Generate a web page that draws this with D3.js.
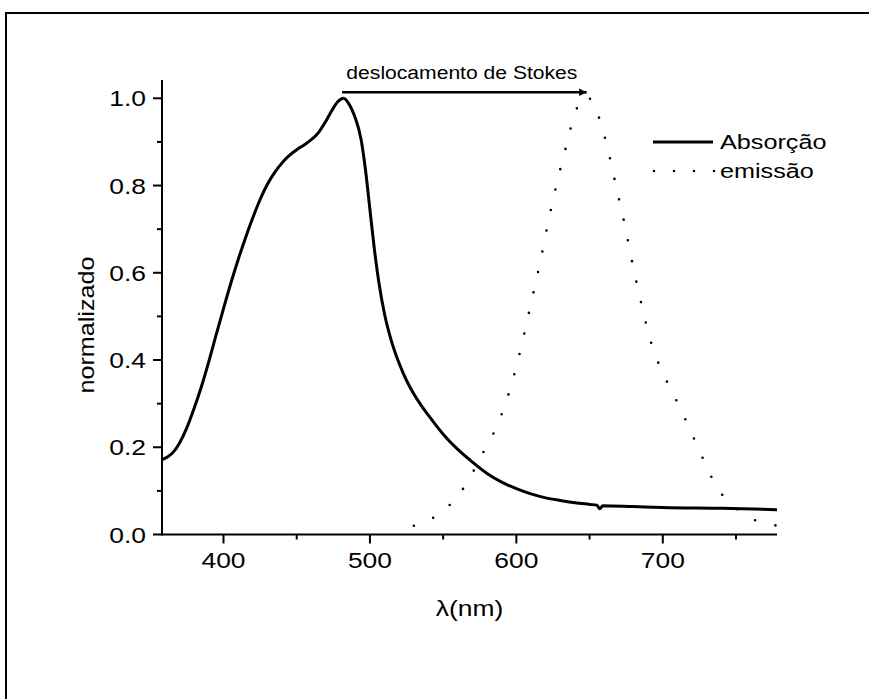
<!DOCTYPE html>
<html>
<head>
<meta charset="utf-8">
<script src="https://d3js.org/d3.v7.min.js"></script>
<style>
  body { margin: 0; background: #fff; }
  text { font-family: Arial, "Liberation Sans", sans-serif; fill: #000; }
</style>
</head>
<body>
<svg width="869" height="699"></svg>
<script>
// absorption spectrum (solid), wavelength in nm
var absWl = [358, 362, 366, 370, 375, 380, 385, 390, 395, 400, 405, 410, 415, 420, 425, 430, 435, 440, 445, 450,
  455, 460, 465, 470, 474, 478, 482, 486, 490, 494, 497, 500, 503, 506, 510, 515, 520, 525, 530, 535, 540,
  550, 560, 570, 580, 590, 600, 610, 620, 630, 640, 650, 655, 657, 659, 680, 700, 740, 778];
var absVal = [0.172, 0.178, 0.19, 0.21, 0.245, 0.29, 0.34, 0.397, 0.458, 0.518, 0.576, 0.63, 0.68, 0.726, 0.768, 0.803, 0.83, 0.852, 0.869, 0.882,
  0.893, 0.905, 0.922, 0.948, 0.972, 0.992, 1.0, 0.985, 0.955, 0.905, 0.835, 0.745, 0.655, 0.58, 0.505, 0.44, 0.392, 0.353, 0.322, 0.296, 0.273,
  0.23, 0.195, 0.166, 0.14, 0.12, 0.105, 0.093, 0.084, 0.078, 0.073, 0.069, 0.067, 0.059, 0.066, 0.064, 0.062, 0.06, 0.057];

// emission spectrum (dotted)
var emWl = [530, 544, 556, 566, 573, 580, 587, 592, 598, 604, 610, 616, 622, 628, 634, 640, 644, 648,
  652, 656, 662, 668, 674, 680, 686, 692, 700, 706, 712, 718, 724, 730, 737, 747, 759, 773, 778];
var emVal = [0.02, 0.04, 0.073, 0.117, 0.16, 0.205, 0.25, 0.295, 0.36, 0.44, 0.53, 0.62, 0.72, 0.81, 0.89, 0.965, 0.995, 1.005,
  0.99, 0.96, 0.89, 0.8, 0.71, 0.61, 0.52, 0.44, 0.37, 0.33, 0.289, 0.245, 0.2, 0.155, 0.108, 0.07, 0.039, 0.024, 0.02];

var xTicks = [400, 500, 600, 700];
var xMinor = [450, 550, 650, 750];
var yTicks = [0.0, 0.2, 0.4, 0.6, 0.8, 1.0];
var yMinor = [0.1, 0.3, 0.5, 0.7, 0.9];
var seriesNames = ["Absorção", "emissão"];

var svg = d3.select("svg");
var SX = 1.2; // the figure's text is drawn horizontally widened

// frame around the figure (top and left edges show)
svg.append("path")
  .attr("d", "M6,720V13H900")
  .attr("fill", "none").attr("stroke", "#000").attr("stroke-width", 2);

var x = d3.scaleLinear().domain([358, 778]).range([162, 777]);
var y = d3.scaleLinear().domain([0, 1.0]).range([534.5, 98.3]);
var yTop = y(1.042);

var g = svg.append("g");

function wideText(sel, px, py) {
  return sel.attr("transform", "translate(" + px + "," + py + ") scale(" + SX + ",1)");
}

// axes lines
g.append("line").attr("x1", x(358)).attr("x2", x(778)).attr("y1", y(0)).attr("y2", y(0))
  .attr("stroke", "#000").attr("stroke-width", 2);
g.append("line").attr("x1", x(358)).attr("x2", x(358)).attr("y1", y(0) + 1).attr("y2", yTop)
  .attr("stroke", "#000").attr("stroke-width", 2);

// x ticks
g.selectAll(".xt").data(xTicks).enter().append("line")
  .attr("x1", d => x(d)).attr("x2", d => x(d)).attr("y1", y(0)).attr("y2", y(0) + 9)
  .attr("stroke", "#000").attr("stroke-width", 2);
g.selectAll(".xm").data(xMinor).enter().append("line")
  .attr("x1", d => x(d)).attr("x2", d => x(d)).attr("y1", y(0)).attr("y2", y(0) + 5)
  .attr("stroke", "#000").attr("stroke-width", 2);
g.selectAll(".xl").data(xTicks).enter().append("text")
  .each(function(d) { wideText(d3.select(this), x(d), y(0) + 33); })
  .attr("text-anchor", "middle").attr("font-size", 22)
  .text(d => d);

// y ticks
g.selectAll(".yt").data(yTicks).enter().append("line")
  .attr("x1", x(358) - 9).attr("x2", x(358)).attr("y1", d => y(d)).attr("y2", d => y(d))
  .attr("stroke", "#000").attr("stroke-width", 2);
g.selectAll(".ym").data(yMinor).enter().append("line")
  .attr("x1", x(358) - 5).attr("x2", x(358)).attr("y1", d => y(d)).attr("y2", d => y(d))
  .attr("stroke", "#000").attr("stroke-width", 2);
g.selectAll(".yl").data(yTicks).enter().append("text")
  .each(function(d) { wideText(d3.select(this), x(358) - 16, y(d) + 8); })
  .attr("text-anchor", "end").attr("font-size", 22)
  .text(d => d3.format(".1f")(d));

// axis titles
g.append("text")
  .attr("transform", "translate(94,325) rotate(-90)")
  .attr("text-anchor", "middle").attr("font-size", 22)
  .attr("textLength", 137).attr("lengthAdjust", "spacingAndGlyphs")
  .text("normalizado");
wideText(g.append("text"), (x(358) + x(778)) / 2, 616)
  .attr("text-anchor", "middle").attr("font-size", 22)
  .text("λ(nm)");

// curves
var absData = absWl.map((w, i) => [w, absVal[i]]);
var emData = emWl.map((w, i) => [w, emVal[i]]);
var line = d3.line().x(d => x(d[0])).y(d => y(d[1])).curve(d3.curveMonotoneX);

g.append("path").datum(emData).attr("d", line)
  .attr("fill", "none").attr("stroke", "#000").attr("stroke-width", 2.6)
  .attr("stroke-linecap", "round").attr("stroke-dasharray", "0 21");
g.append("path").datum(absData).attr("d", line)
  .attr("fill", "none").attr("stroke", "#000").attr("stroke-width", 3);

// Stokes shift arrow
svg.append("defs").append("marker")
  .attr("id", "arr").attr("viewBox", "0 0 10 10").attr("refX", 10).attr("refY", 5)
  .attr("markerWidth", 4.5).attr("markerHeight", 3).attr("markerUnits", "strokeWidth")
  .attr("orient", "auto")
  .append("path").attr("d", "M0,0L10,5L0,10z").attr("fill", "#000");
g.append("line")
  .attr("x1", x(481)).attr("x2", x(648)).attr("y1", y(1.014)).attr("y2", y(1.014))
  .attr("stroke", "#000").attr("stroke-width", 2.5).attr("marker-end", "url(#arr)");
g.append("text")
  .attr("x", x(562.8)).attr("y", y(1.044))
  .attr("text-anchor", "middle").attr("font-size", 18)
  .attr("textLength", 231).attr("lengthAdjust", "spacingAndGlyphs")
  .text("deslocamento de Stokes");

// legend
var lg = g.append("g");
lg.append("line").attr("x1", 653).attr("x2", 713).attr("y1", 142).attr("y2", 142)
  .attr("stroke", "#000").attr("stroke-width", 3);
lg.append("line").attr("x1", 654).attr("x2", 716).attr("y1", 171).attr("y2", 171)
  .attr("stroke", "#000").attr("stroke-width", 2.6)
  .attr("stroke-linecap", "round").attr("stroke-dasharray", "0 20");
lg.selectAll("text").data(seriesNames).enter().append("text")
  .each(function(d, i) { wideText(d3.select(this), 720, 149 + i * 29); })
  .attr("font-size", 21)
  .text(d => d);
</script>
</body>
</html>
